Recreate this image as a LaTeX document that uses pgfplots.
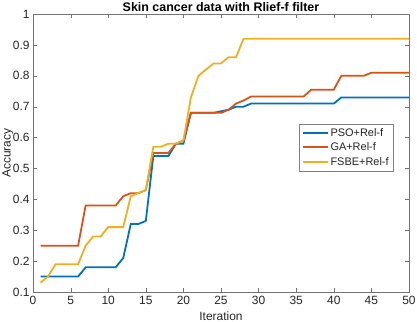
\documentclass[border=0pt]{standalone}
\usepackage{pgfplots}
\pgfplotsset{compat=1.18}
\usepackage{fontspec}
\setmainfont{Liberation Sans}
\definecolor{mblue}{rgb}{0,0.447,0.741}
\definecolor{morange}{rgb}{0.85,0.325,0.098}
\definecolor{myellow}{rgb}{0.929,0.694,0.125}
\definecolor{axgray}{rgb}{0.15,0.15,0.15}
\begin{document}
\begin{tikzpicture}
\begin{axis}[
  at={(0,0)}, anchor=south west,
  scale only axis,
  width=376bp, height=278bp,
  xmin=0, xmax=50, ymin=0.1, ymax=1,
  xtick={0,5,...,50},
  ytick={0.1,0.2,0.3,0.4,0.5,0.6,0.7,0.8,0.9,1},
  yticklabels={0.1,0.2,0.3,0.4,0.5,0.6,0.7,0.8,0.9,1},
  tick align=inside,
  major tick length=4bp,
  axis line style={draw=black!55},
  tick style={draw=black!55},
  every tick label/.append style={font=\fontsize{12}{14}\selectfont, text=axgray},
  xticklabel style={yshift=-1bp},
  /pgf/number format/assume math mode=true,
  title={\textbf{Skin cancer data with Rlief-f filter}},
  title style={font=\fontsize{12.5}{14}\selectfont, text=black, anchor=base, inner sep=0pt, yshift=-3bp},
  xlabel={Iteration}, ylabel={Accuracy},
  xlabel style={font=\fontsize{12}{14}\selectfont, text=axgray, yshift=0bp},
  ylabel style={font=\fontsize{12}{14}\selectfont, text=axgray, yshift=-7bp},
  legend style={at={(0.707,0.604)}, anchor=north west, font=\fontsize{11}{13}\selectfont, draw=black!50, inner xsep=2.5pt, inner ysep=2pt, row sep=1.2pt, text=axgray},
  legend cell align=left,
  legend image code/.code={\draw[line width=2bp] plot coordinates {(0bp,0.3bp) (12.5bp,0.3bp) (25bp,0.3bp)};},
  every axis plot/.append style={line width=1.8pt},
]
\addplot[mblue] coordinates {(1,.15)(2,.15)(3,.15)(4,.15)(5,.15)(6,.15)(7,.18)(8,.18)(9,.18)(10,.18)(11,.18)(12,.21)(13,.32)(14,.32)(15,.33)(16,.54)(17,.54)(18,.54)(19,.58)(20,.58)(21,.68)(22,.68)(23,.68)(24,.68)(25,.685)(26,.69)(27,.70)(28,.70)(29,.71)(30,.71)(31,.71)(32,.71)(33,.71)(34,.71)(35,.71)(36,.71)(37,.71)(38,.71)(39,.71)(40,.71)(41,.73)(42,.73)(43,.73)(44,.73)(45,.73)(46,.73)(47,.73)(48,.73)(49,.73)(50,.73)};
\addlegendentry{PSO+Rel-f}
\addplot[morange] coordinates {(1,.25)(2,.25)(3,.25)(4,.25)(5,.25)(6,.25)(7,.38)(8,.38)(9,.38)(10,.38)(11,.38)(12,.41)(13,.42)(14,.42)(15,.43)(16,.55)(17,.55)(18,.55)(19,.58)(20,.59)(21,.68)(22,.68)(23,.68)(24,.68)(25,.68)(26,.69)(27,.71)(28,.72)(29,.733)(30,.733)(31,.733)(32,.733)(33,.733)(34,.733)(35,.733)(36,.733)(37,.755)(38,.755)(39,.755)(40,.755)(41,.80)(42,.80)(43,.80)(44,.80)(45,.81)(46,.81)(47,.81)(48,.81)(49,.81)(50,.81)};
\addlegendentry{GA+Rel-f}
\addplot[myellow] coordinates {(1,.13)(2,.15)(3,.19)(4,.19)(5,.19)(6,.19)(7,.25)(8,.28)(9,.28)(10,.31)(11,.31)(12,.31)(13,.41)(14,.42)(15,.43)(16,.57)(17,.57)(18,.58)(19,.58)(20,.59)(21,.73)(22,.80)(23,.82)(24,.84)(25,.84)(26,.86)(27,.86)(28,.92)(29,.92)(30,.92)(31,.92)(32,.92)(33,.92)(34,.92)(35,.92)(36,.92)(37,.92)(38,.92)(39,.92)(40,.92)(41,.92)(42,.92)(43,.92)(44,.92)(45,.92)(46,.92)(47,.92)(48,.92)(49,.92)(50,.92)};
\addlegendentry{FSBE+Rel-f}
\end{axis}
\pgfresetboundingbox
\path[use as bounding box] (-33bp,-30bp) rectangle (384bp,292bp);
\end{tikzpicture}
\end{document}
